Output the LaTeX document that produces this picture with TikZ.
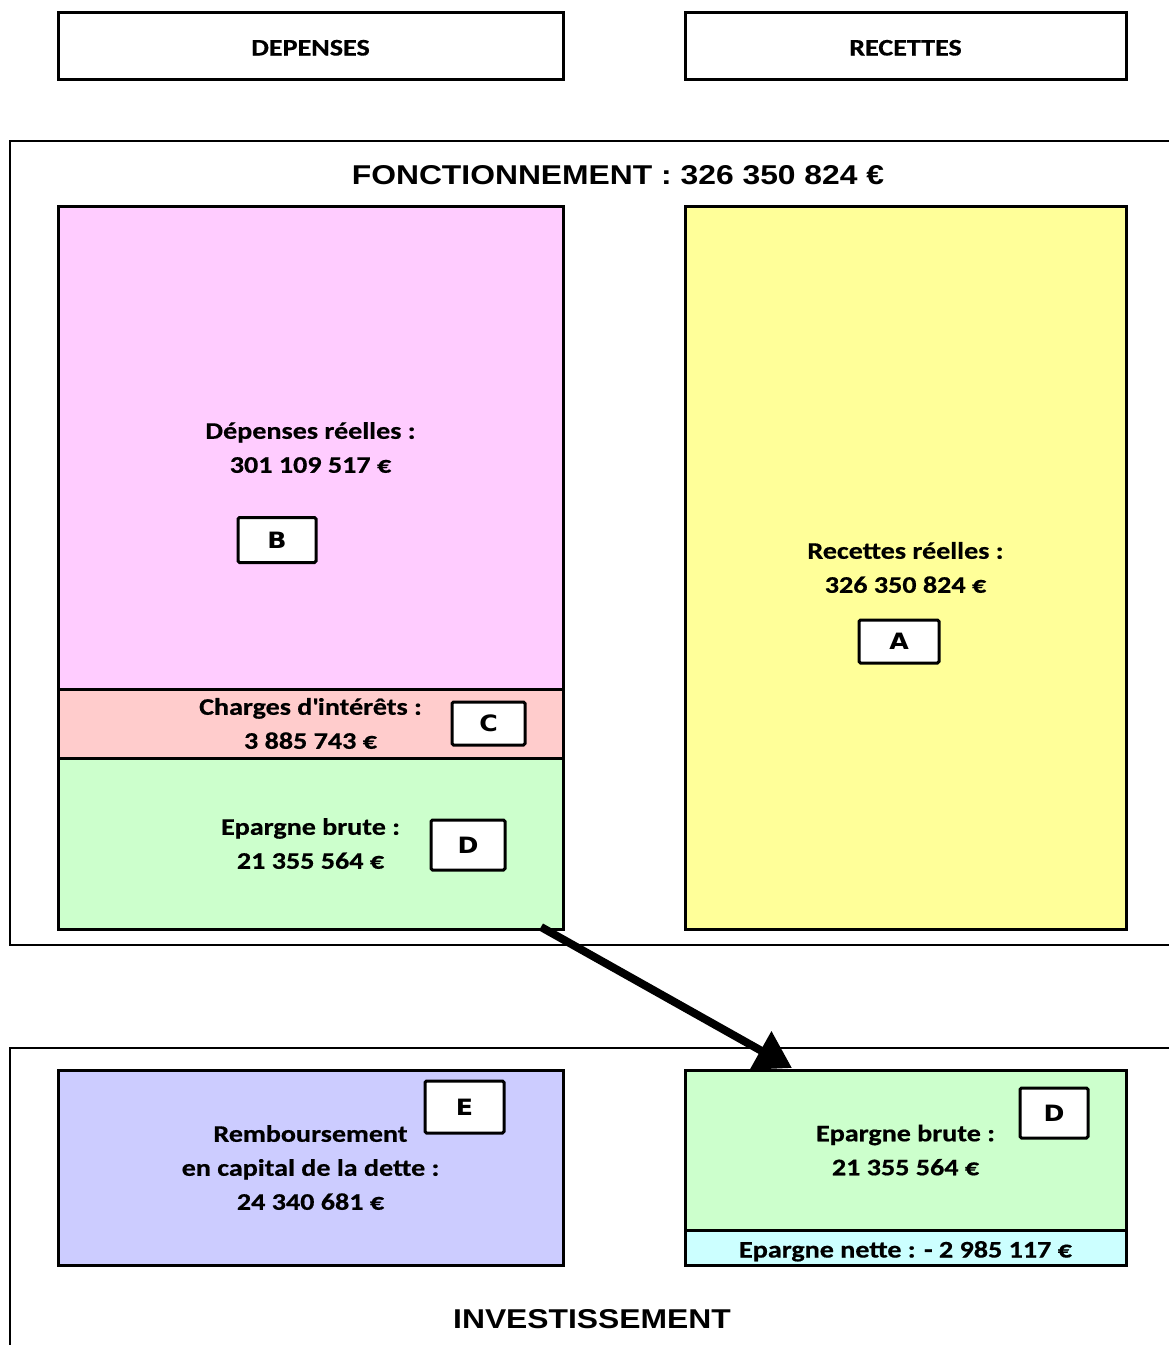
\documentclass[tikz,border=0pt]{standalone}
\usepackage{fontspec}
\setmainfont[FakeStretch=1.18,FakeBold=0.6]{Carlito}
\newfontfamily\titrefont[FakeStretch=1.17]{Liberation Sans}
\newfontfamily\lettrefont[FakeStretch=1.12]{DejaVu Sans}
\usetikzlibrary{calc,arrows.meta}
\definecolor{rose}{HTML}{FFCCFF}
\definecolor{saumon}{HTML}{FFCCCC}
\definecolor{vertpale}{HTML}{CCFFCC}
\definecolor{jaune}{HTML}{FFFF99}
\definecolor{bleupale}{HTML}{CCCCFF}
\definecolor{cyanpale}{HTML}{CCFFFF}

\begin{document}
\begin{tikzpicture}[x=1pt,y=-1pt,
    bloc/.style={draw,line width=3pt,outer sep=0pt,inner sep=0pt,align=center,anchor=north west,
      font=\fontsize{23.8}{34}\selectfont\bfseries},
    lettre/.style={draw,line width=3pt,fill=white,rounded corners=1.5pt,inner sep=0pt,
      font=\lettrefont\bfseries\fontsize{22.5}{26}\selectfont},
    cadre/.style={line width=2.7pt},
    titre/.style={font=\titrefont\bfseries\fontsize{27.2}{32}\selectfont}]
  \useasboundingbox (0,0) rectangle (1169,1345);
  % en-tetes
  \node[bloc,minimum width=505pt,minimum height=67pt,text height=20pt,text depth=0pt] (depenses) at (58,12) {DEPENSES};
  \node[bloc,minimum width=441pt,minimum height=67pt,text height=20pt,text depth=0pt] (recettes) at (685,12) {RECETTES};
  % fonctionnement
  \draw[cadre] (10,141) rectangle (1190,945);
  \node[titre] (fonct) at (618,175) {FONCTIONNEMENT : 326 350 824 €};
  \node[bloc,fill=rose,minimum width=505pt,minimum height=483pt] (depreelles) at (58,206)
    {Dépenses réelles :\\301 109 517 €};
  \node[bloc,fill=saumon,minimum width=505pt,minimum height=69pt] (charges) at (depreelles.south west)
    {Charges d\textquotesingle intérêts :\\3 885 743 €};
  \node[bloc,fill=vertpale,minimum width=505pt,minimum height=171pt] (epbrute) at (charges.south west)
    {Epargne brute :\\21 355 564 €};
  \node[bloc,fill=jaune,minimum width=441pt,minimum height=723pt] (recreelles) at (685,206)
    {Recettes réelles :\\326 350 824 €};
  \node[lettre,minimum width=78pt,minimum height=45pt] (lb) at (277,540) {B};
  \node[lettre,minimum width=73pt,minimum height=43pt] (lc) at (488.5,723.5) {C};
  \node[lettre,minimum width=74pt,minimum height=50pt] (ld) at (468,845) {D};
  \node[lettre,minimum width=80pt,minimum height=43pt] (la) at (899,641.5) {A};
  % investissement
  \draw[cadre] (10,1048) rectangle (1190,1370);
  \node[titre] (invest) at (592,1319) {INVESTISSEMENT};
  \node[bloc,fill=bleupale,minimum width=505pt,minimum height=195pt] (rembours) at (58,1070)
    {Remboursement\\en capital de la dette :\\24 340 681 €};
  \node[bloc,fill=vertpale,minimum width=441pt,minimum height=160pt] (epbruteinv) at (685,1070)
    {Epargne brute :\\21 355 564 €};
  \node[bloc,fill=cyanpale,minimum width=441pt,minimum height=35pt,text height=21pt,text depth=1pt] (epnette) at (epbruteinv.south west)
    {Epargne nette : - 2 985 117 €};
  \node[lettre,minimum width=79pt,minimum height=52pt] (le) at (464.5,1107) {E};
  \node[lettre,minimum width=68pt,minimum height=50pt] (ld2) at (1054,1113) {D};
  % transfert de l'epargne brute
  \coordinate (depart) at ($(epbrute.south east)+(-22,-2)$);
  \coordinate (arrivee) at ($(epbruteinv.north west)+(107,-2)$);
  \draw[line width=8pt,-{Triangle[length=36pt,width=42pt]}] (depart) -- (arrivee);
\end{tikzpicture}
\end{document}
